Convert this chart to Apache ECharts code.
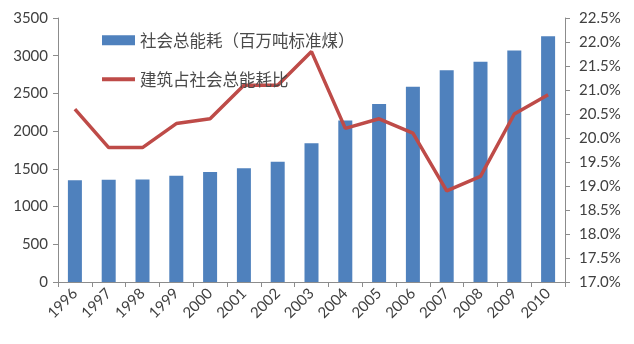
<!DOCTYPE html>
<html>
<head>
<meta charset="utf-8">
<script src="https://cdn.jsdelivr.net/npm/echarts@6/dist/echarts.min.js"></script>
<style>
  html, body { margin: 0; padding: 0; background: #fff; }
  #chart { width: 634px; height: 344px; }
</style>
</head>
<body>
<div id="chart"></div>
<script>
// Years on the category axis
const years = ['1996', '1997', '1998', '1999', '2000', '2001', '2002', '2003',
               '2004', '2005', '2006', '2007', '2008', '2009', '2010'];
// Total social energy consumption (million tonnes of standard coal)
const totalEnergy = [1350, 1355, 1360, 1410, 1458, 1507, 1595, 1840,
                     2140, 2360, 2590, 2807, 2920, 3070, 3258];
// Building share of total energy consumption (%)
const buildingShare = [20.6, 19.8, 19.8, 20.3, 20.4, 21.1, 21.1, 21.8,
                       20.2, 20.4, 20.1, 18.9, 19.2, 20.5, 20.9];

const barName = '社会总能耗（百万吨标准煤）';
const lineName = '建筑占社会总能耗比';

const axisColor = '#8c8c8c';
const labelColor = '#404040';
const numFont = 'Lato, "Noto Sans", sans-serif';
const cjkFont = '"Noto Sans CJK SC", sans-serif';

const chart = echarts.init(document.getElementById('chart'));
chart.setOption({
  animation: false,
  backgroundColor: '#fff',
  grid: { left: 58, right: 69, top: 18, bottom: 62 },
  legend: [
    {
      data: [barName],
      left: 97, top: 27,
      icon: 'rect', itemWidth: 33, itemHeight: 10, itemGap: 5,
      textStyle: { fontFamily: cjkFont, fontSize: 16.5, color: '#4a4a4a' }
    },
    {
      data: [lineName],
      left: 97, top: 66,
      icon: 'rect', itemWidth: 33, itemHeight: 4, itemGap: 4,
      textStyle: { fontFamily: cjkFont, fontSize: 16.5, color: '#4a4a4a' }
    }
  ],
  xAxis: {
    type: 'category',
    data: years,
    axisLine: { lineStyle: { color: axisColor } },
    axisTick: { show: true, length: 5, lineStyle: { color: axisColor } },
    axisLabel: {
      rotate: 45, margin: 9, interval: 0,
      fontFamily: numFont, fontSize: 15, color: labelColor
    }
  },
  yAxis: [
    {
      type: 'value', min: 0, max: 3500, interval: 500,
      axisLine: { show: true, lineStyle: { color: axisColor } },
      axisTick: { show: true, length: 5, lineStyle: { color: axisColor } },
      splitLine: { show: false },
      axisLabel: {
        margin: 10, fontFamily: numFont, fontSize: 15, color: labelColor,
        formatter: v => String(v)
      }
    },
    {
      type: 'value', min: 17, max: 22.5, interval: 0.5,
      position: 'right',
      axisLine: { show: true, lineStyle: { color: axisColor } },
      axisTick: { show: true, length: 5, lineStyle: { color: axisColor } },
      splitLine: { show: false },
      axisLabel: {
        margin: 14, fontFamily: numFont, fontSize: 15, color: labelColor,
        formatter: v => v.toFixed(1) + '%'
      }
    }
  ],
  series: [
    {
      name: barName,
      type: 'bar',
      data: totalEnergy,
      barWidth: 14,
      itemStyle: { color: '#4F81BD' }
    },
    {
      name: lineName,
      type: 'line',
      yAxisIndex: 1,
      data: buildingShare,
      symbol: 'none',
      lineStyle: { color: '#BE4B48', width: 3.5 },
      itemStyle: { color: '#BE4B48' }
    }
  ]
});
</script>
</body>
</html>
